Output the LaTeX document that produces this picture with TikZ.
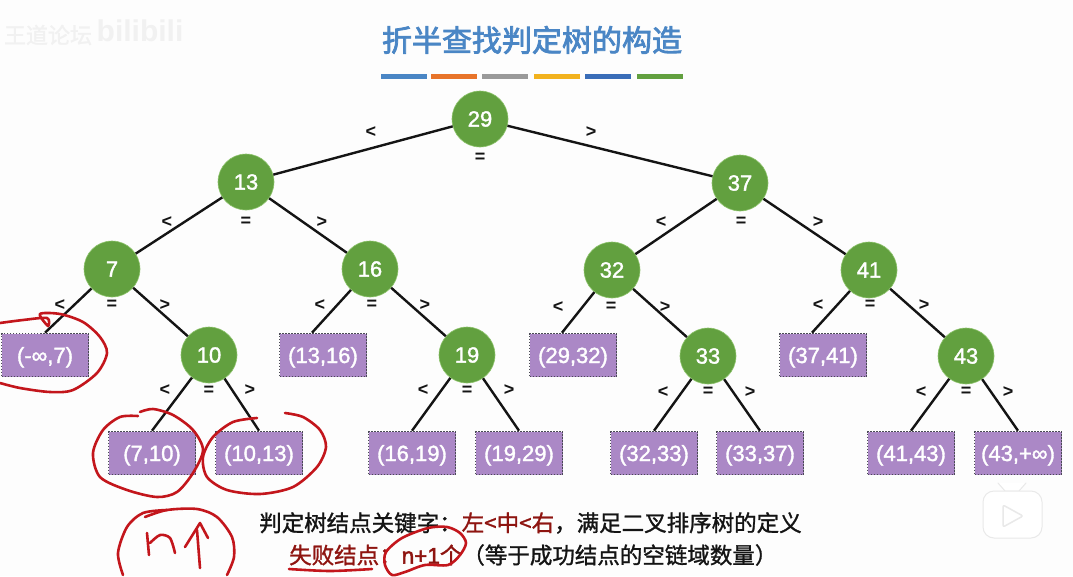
\documentclass[tikz,border=0pt]{standalone}
\usepackage{fontspec}
\setmainfont{Liberation Sans}
\newfontfamily\btnum[FakeBold=1.6]{Liberation Sans}
\newfontfamily\btnumb[FakeBold=2.2]{Liberation Sans}
\newfontfamily\cjk[FakeBold=1.2]{Noto Sans CJK SC}
\newfontfamily\cjktitle[FakeBold=2.6]{Noto Sans CJK SC}
\usetikzlibrary{arrows.meta,positioning,calc}
\definecolor{btgreen}  {HTML}{62A03F}
\definecolor{btrim}    {HTML}{8FC46E}
\definecolor{btpurple} {HTML}{AB88C6}
\definecolor{btdot}    {HTML}{4A4A55}
\definecolor{btink}    {HTML}{141414}
\definecolor{btred}    {HTML}{C3161C}
\definecolor{btdark}   {HTML}{8E1410}
\definecolor{btblue}   {HTML}{4A86C5}
\definecolor{btorange} {HTML}{E8742A}
\definecolor{btgray}   {HTML}{9A9A9A}
\definecolor{btyellow} {HTML}{F2B21E}
\definecolor{btnavy}   {HTML}{3A6DB8}
\definecolor{btpaper}  {HTML}{FDFDFD}
\definecolor{btfaint}  {HTML}{F1F1F1}
\definecolor{btshade}  {HTML}{E9E9E9}
\tikzset{
  btnode/.style={circle, draw=btrim, fill=btgreen, line width=0.6pt, minimum size=56pt,
                 inner sep=0pt, text=white, font=\fontsize{22}{24}\selectfont\btnum},
  btleaf/.style={draw=btdot, dash pattern=on 1.5pt off 1.5pt, line width=1.6pt, fill=btpurple,
                 minimum width=87pt, minimum height=43pt, inner sep=0pt, text=white,
                 text height=18pt, text depth=2pt, font=\fontsize{22}{24}\selectfont\btnum},
  btedge/.style={draw=btink, line width=2.4pt},
  btlabel/.style={font=\fontsize{18}{18}\selectfont\bfseries, text=btink, inner sep=0pt},
  btbar/.style={minimum width=46pt, minimum height=5pt, inner sep=0pt, anchor=west},
  bttext/.style={font=\fontsize{22.5}{25}\selectfont\cjk, inner sep=0pt, anchor=west, text=btink},
  btpen/.style={draw=btred, line width=2.6pt, line cap=round, line join=round},
}
\begin{document}
\begin{tikzpicture}[x=1pt,y=-1pt]
  \useasboundingbox[fill=btpaper] (0,0) rectangle (1073,576);
  % watermark and title
  \node[font=\fontsize{22}{24}\selectfont\cjk, text=btfaint, inner sep=0pt] (wmark) at (48,35) {王道论坛};
  \node[font=\fontsize{30}{30}\selectfont\bfseries, text=btfaint, inner sep=0pt] (wlogo) at (140,31) {bilibili};
  \node[font=\fontsize{30}{32}\selectfont\cjktitle, text=btblue, inner sep=0pt] (title) at (532,40) {折半查找判定树的构造};
  \node[btbar, fill=btblue]   (bar1) at (381,76) {};
  \node[btbar, fill=btorange] (bar2) at (431,76) {};
  \node[btbar, fill=btgray]   (bar3) at (482,76) {};
  \node[btbar, fill=btyellow] (bar4) at (534,76) {};
  \node[btbar, fill=btnavy]   (bar5) at (585,76) {};
  \node[btbar, fill=btgreen]  (bar6) at (637,76) {};
  % inner nodes
  \node[btnode] (n29) at (480,119) {29};
  \node[btnode] (n13) at (246,182) {13};
  \node[btnode] (n37) at (740,183) {37};
  \node[btnode] (n7)  at (112,269) {7};
  \node[btnode] (n16) at (370,269) {16};
  \node[btnode] (n32) at (612,270) {32};
  \node[btnode] (n41) at (869,270) {41};
  \node[btnode] (n10) at (209,355) {10};
  \node[btnode] (n19) at (467,355) {19};
  \node[btnode] (n33) at (708,356) {33};
  \node[btnode] (n43) at (966,356) {43};
  % failure nodes
  \node[btleaf] (f07) at (45,355)  {(-∞,7)};
  \node[btleaf] (f1316) at (323,355) {(13,16)};
  \node[btleaf] (f2932) at (573,355) {(29,32)};
  \node[btleaf] (f3741) at (823,355) {(37,41)};
  \node[btleaf] (f710)  at (152,453) {(7,10)};
  \node[btleaf] (f1013) at (259,453) {(10,13)};
  \node[btleaf] (f1619) at (412,453) {(16,19)};
  \node[btleaf] (f1929) at (519,453) {(19,29)};
  \node[btleaf] (f3233) at (654,453) {(32,33)};
  \node[btleaf] (f3337) at (760,453) {(33,37)};
  \node[btleaf] (f4143) at (911,453) {(41,43)};
  \node[btleaf] (f4399) at (1018,453) {(43,+∞)};
  % edges
  \draw[btedge] (n29) -- (n13); \draw[btedge] (n29) -- (n37);
  \draw[btedge] (n13) -- (n7);  \draw[btedge] (n13) -- (n16);
  \draw[btedge] (n37) -- (n32); \draw[btedge] (n37) -- (n41);
  \draw[btedge] (n7) -- (f07.north); \draw[btedge] (n7) -- (n10);
  \draw[btedge] (n16) -- ([xshift=-11pt]f1316.north); \draw[btedge] (n16) -- (n19);
  \draw[btedge] (n32) -- ([xshift=-11pt]f2932.north); \draw[btedge] (n32) -- (n33);
  \draw[btedge] (n41) -- ([xshift=-11pt]f3741.north); \draw[btedge] (n41) -- (n43);
  \draw[btedge] (n10) -- (f710.north);  \draw[btedge] (n10) -- (f1013.north);
  \draw[btedge] (n19) -- (f1619.north); \draw[btedge] (n19) -- (f1929.north);
  \draw[btedge] (n33) -- (f3233.north); \draw[btedge] (n33) -- (f3337.north);
  \draw[btedge] (n43) -- (f4143.north); \draw[btedge] (n43) -- (f4399.north);
  % edge labels
  \node[btlabel] (a1) at (371,132) {<}; \node[btlabel] (b1) at (480,158) {=}; \node[btlabel] (c1) at (591,132) {>};
  \node[btlabel] (a2) at (167,222) {<}; \node[btlabel] (b2) at (246,222) {=}; \node[btlabel] (c2) at (322,222) {>};
  \node[btlabel] (a3) at (661,222) {<}; \node[btlabel] (b3) at (741,222) {=}; \node[btlabel] (c3) at (818,222) {>};
  \node[btlabel] (a4) at (60,305)  {<}; \node[btlabel] (b4) at (112,305) {=}; \node[btlabel] (c4) at (165,305) {>};
  \node[btlabel] (a5) at (320,305) {<}; \node[btlabel] (b5) at (372,305) {=}; \node[btlabel] (c5) at (425,305) {>};
  \node[btlabel] (a6) at (558,307) {<}; \node[btlabel] (b6) at (611,307) {=}; \node[btlabel] (c6) at (665,307) {>};
  \node[btlabel] (a7) at (818,305) {<}; \node[btlabel] (b7) at (870,305) {=}; \node[btlabel] (c7) at (924,305) {>};
  \node[btlabel] (a8) at (165,390) {<}; \node[btlabel] (b8) at (209,391) {=}; \node[btlabel] (c8) at (250,390) {>};
  \node[btlabel] (a9) at (423,390) {<}; \node[btlabel] (b9) at (467,391) {=}; \node[btlabel] (c9) at (509,390) {>};
  \node[btlabel] (a10) at (663,392) {<}; \node[btlabel] (b10) at (708,392) {=}; \node[btlabel] (c10) at (750,392) {>};
  \node[btlabel] (a11) at (921,392) {<}; \node[btlabel] (b11) at (966,392) {=}; \node[btlabel] (c11) at (1008,392) {>};
  % bottom text
  \node[bttext] (line1) at (259,523) {判定树结点关键字：\textcolor{btdark}{左<中<右}，满足二叉排序树的定义};
  \node[bttext] (line2) at (289,555) {\textcolor{btdark}{失败结点：{\btnumb n+1}个}（等于成功结点的空链域数量）};
  % player logo
  \draw[btshade, line width=1pt, fill=white, line cap=round] (998,483) -- (1005,491) -- (1019,491) -- (1026,483);
  \draw[btshade, line width=1pt, fill=white, rounded corners=11pt] (983,491) rectangle (1042,538);
  \draw[btshade, line width=1.5pt, fill=white, rounded corners=2pt] (1003,505) -- (1003,527) -- (1023,516) -- cycle;
  % handwriting
  \draw[btpen] plot[smooth] coordinates {(0,323) (23,320) (47,318) (48,326) (40,314) (60,314) (83,322) (100,337) (107,353) (97,373) (73,390) (50,392) (20,388) (0,383)};
  \draw[btpen] plot[smooth] coordinates {(138,416) (120,417) (103,430) (93,453) (100,477) (127,490) (157,497) (177,492) (193,473) (203,450) (193,430) (173,415) (153,409) (140,412)};
  \draw[btpen] plot[smooth] coordinates {(257,418) (233,422) (213,437) (203,457) (207,477) (227,490) (260,494) (293,487) (317,467) (326,447) (320,430) (303,417) (285,413)};
  \draw[btpen] plot[smooth] coordinates {(145,517) (167,510) (197,509) (217,517) (232,537) (234,557) (227,575)};
  \draw[btpen] plot[smooth] coordinates {(167,510) (143,513) (127,527) (118,553) (123,575)};
  \draw[btpen] (147,533) -- (149,555);
  \draw[btpen] plot[smooth] coordinates {(150,543) (160,535) (170,538) (175,553)};
  \draw[btpen] (185,547) -- (200,523) -- (208,538);
  \draw[btpen] (197,530) -- (200,568);
  \draw[btpen] plot[smooth] coordinates {(289,569) (330,571) (372,569)};
  \draw[btpen] plot[smooth cycle] coordinates {(386,552) (385,565) (392,575) (405,572) (425,565) (448,565) (460,555) (466,543) (460,533) (447,527) (428,528) (402,538)};
\end{tikzpicture}
\end{document}
